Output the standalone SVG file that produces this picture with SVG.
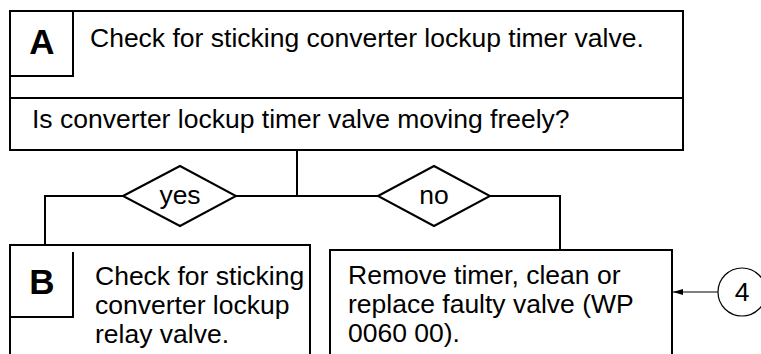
<svg xmlns="http://www.w3.org/2000/svg" width="761" height="354" viewBox="0 0 761 354">
  <style>
    .box { fill: #fff; stroke: #000; stroke-width: 2; }
    .line { fill: none; stroke: #000; stroke-width: 2; }
    .thin { fill: none; stroke: #000; stroke-width: 1.2; }
    .t { font-family: "Liberation Sans", Arial, sans-serif; font-size: 26.5px; fill: #000; }
    .lbl { font-family: "Liberation Sans", Arial, sans-serif; font-size: 35px; font-weight: bold; fill: #000; text-anchor: middle; }
  </style>
  <defs>
    <marker id="arrow" viewBox="0 0 10 6" refX="10" refY="3" markerWidth="10" markerHeight="6" markerUnits="userSpaceOnUse" orient="auto">
      <path d="M0,0 L10,3 L0,6 Z" fill="#000"/>
    </marker>
  </defs>
  <rect width="761" height="354" fill="#fff"/>

  <!-- connectors -->
  <g id="connectors">
    <path class="line" d="M297,150 V196"/>
    <path class="line" d="M236,196 H378"/>
    <path class="line" d="M123,196 H45 V245"/>
    <path class="line" d="M490,196 H560 V250"/>
    <path class="thin" d="M718,292 H673" marker-end="url(#arrow)"/>
  </g>

  <!-- step A: check and question -->
  <g id="stepA">
    <rect class="box" x="10" y="11" width="673" height="139"/>
    <path class="line" d="M10,98 H683"/>
    <path class="line" d="M73,11 V76 H10"/>
    <text class="lbl" x="42" y="54">A</text>
    <text class="t" x="90" y="47">Check for sticking converter lockup timer valve.</text>
    <text class="t" x="32" y="128">Is converter lockup timer valve moving freely?</text>
  </g>

  <!-- decision yes -->
  <g id="yes">
    <path class="box" d="M123,196 L180,166 L236,196 L180,226 Z"/>
    <text class="t" x="180" y="204" text-anchor="middle">yes</text>
  </g>

  <!-- decision no -->
  <g id="no">
    <path class="box" d="M378,196 L434,166 L490,196 L434,226 Z"/>
    <text class="t" x="434" y="204" text-anchor="middle">no</text>
  </g>

  <!-- step B -->
  <g id="stepB">
    <path class="line" d="M10,360 V245 H310 V360"/>
    <path class="line" d="M73,252 V317 H10"/>
    <text class="lbl" x="42" y="294">B</text>
    <text class="t" x="95" y="285">Check for sticking</text>
    <text class="t" x="95" y="314">converter lockup</text>
    <text class="t" x="95" y="343">relay valve.</text>
  </g>

  <!-- remedy -->
  <g id="remedy">
    <path class="line" d="M330,360 V250 H672 V360"/>
    <text class="t" x="348" y="284">Remove timer, clean or</text>
    <text class="t" x="348" y="313">replace faulty valve (WP</text>
    <text class="t" x="348" y="342">0060 00).</text>
  </g>

  <!-- reference 4 -->
  <g id="ref4">
    <circle class="thin" cx="742" cy="292" r="24"/>
    <text class="t" x="742" y="301" text-anchor="middle">4</text>
  </g>
</svg>
